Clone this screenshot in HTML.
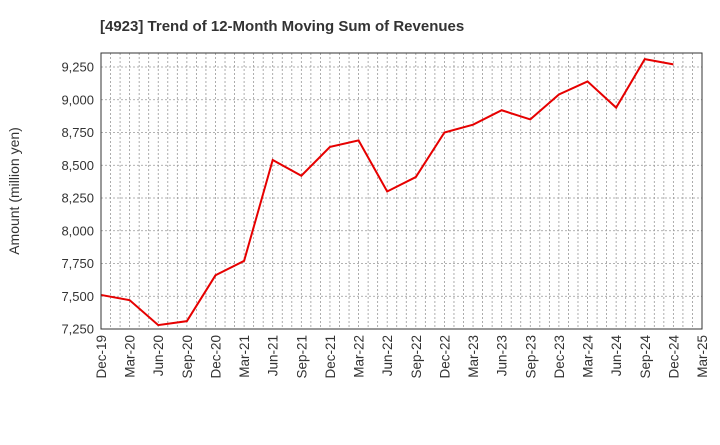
<!DOCTYPE html>
<html><head><meta charset="utf-8"><style>
body{margin:0;background:#fff;font-family:"Liberation Sans",sans-serif}
</style></head><body>
<svg width="720" height="440" xmlns="http://www.w3.org/2000/svg">
<text x="100" y="31" font-size="15" font-weight="bold" fill="#333">[4923]  Trend of 12-Month Moving Sum of Revenues</text>
<text transform="translate(19,191) rotate(-90)" text-anchor="middle" font-size="14" fill="#333">Amount (million yen)</text>
<g id="grid"></g><g id="axes"></g><g id="series"></g>
<rect x="101" y="53" width="601" height="276" fill="none" stroke="#333" stroke-width="1"/>
<script>
const categories=["Dec-19","Mar-20","Jun-20","Sep-20","Dec-20","Mar-21","Jun-21","Sep-21","Dec-21","Mar-22","Jun-22","Sep-22","Dec-22","Mar-23","Jun-23","Sep-23","Dec-23","Mar-24","Jun-24","Sep-24","Dec-24","Mar-25"];
const revenues=[7510,7470,7280,7310,7660,7770,8540,8420,8640,8690,8300,8410,8750,8810,8920,8850,9040,9140,8940,9310,9270];
const yTicks=[7250,7500,7750,8000,8250,8500,8750,9000,9250];
const NS="http://www.w3.org/2000/svg";
const L=101,R=702,T=53,B=329,yMin=7250,yMax=9357;
const step=(R-L)/(categories.length-1);
function x(i){return L+i*step;}
function y(v){return B-(v-yMin)/(yMax-yMin)*(B-T);}
function mk(t,a,p){const e=document.createElementNS(NS,t);for(const k in a)e.setAttribute(k,a[k]);p.appendChild(e);return e;}
const g=document.getElementById('grid'),ax=document.getElementById('axes'),s=document.getElementById('series');
for(let m=1;m<(categories.length-1)*3;m++){const xx=L+m*step/3;
const ln=mk('line',{x1:xx,x2:xx,y1:T,y2:B,stroke:'#999','stroke-dasharray':'2,2','stroke-width':0.8},g);

}
yTicks.forEach(v=>{const yy=y(v);
const ln=mk('line',{x1:L,x2:R,y1:yy,y2:yy,stroke:'#999','stroke-dasharray':'2,2','stroke-width':0.8},g);


const t=mk('text',{x:L-7,y:yy+4.5,'text-anchor':'end','font-size':13,fill:'#333'},ax);t.textContent=v.toLocaleString('en-US');

});
categories.forEach((c,i)=>{const xx=x(i)+5;
const t=mk('text',{transform:`translate(${xx},${B+6}) rotate(-90)`,'text-anchor':'end','font-size':13.5,fill:'#333'},ax);t.textContent=c;

});
const p=mk('polyline',{points:revenues.map((v,i)=>x(i)+','+y(v)).join(' '),fill:'none',stroke:'#e60000','stroke-width':2},s);


</script>
</svg>
</body></html>
